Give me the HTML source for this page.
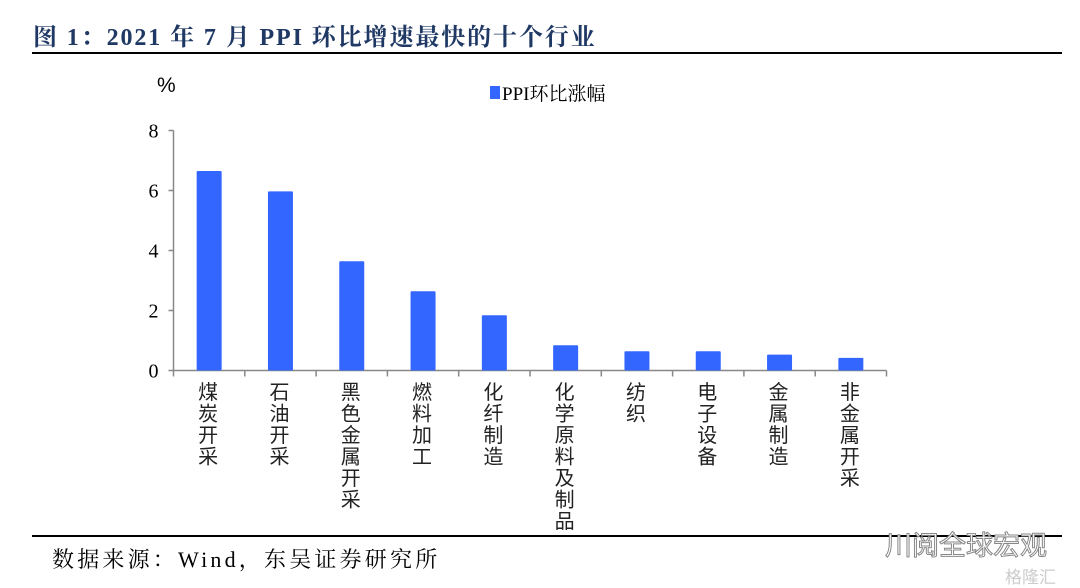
<!DOCTYPE html>
<html><head><meta charset="utf-8"><style>
body{margin:0;background:#fff;width:1080px;height:588px;overflow:hidden;position:relative;font-family:"Liberation Serif","Noto Serif CJK SC",serif}
.title{position:absolute;left:33px;top:17px;font-size:24px;letter-spacing:1.9px;font-weight:bold;color:#1f3864;white-space:nowrap;font-family:"Liberation Serif","Noto Serif CJK SC",serif}
.src{position:absolute;left:52px;top:543px;font-size:22px;letter-spacing:3.2px;color:#000;white-space:nowrap;font-family:"Liberation Serif","Noto Serif CJK SC",serif}
.wm{position:absolute;left:885px;top:524px;font-size:27px;color:#fff;-webkit-text-stroke:1px #888;font-family:"Liberation Sans","Noto Sans CJK SC",sans-serif;white-space:nowrap}
.wm2{position:absolute;left:1005px;top:563px;font-size:17px;color:#ccc;font-family:"Liberation Sans","Noto Sans CJK SC",sans-serif}
</style></head><body>
<div class="title">图 1：2021 年 7 月 PPI 环比增速最快的十个行业</div>
<div style="position:absolute;left:32px;top:52px;width:1030px;height:2px;background:#000"></div>
<svg id="c" width="1080" height="588" style="position:absolute;left:0;top:0"></svg>
<div style="position:absolute;left:32px;top:535px;width:1030px;height:2px;background:#000"></div>
<div class="src">数据来源：Wind，东吴证券研究所</div>
<div class="wm">川阅全球宏观</div>
<div class="wm2">格隆汇</div>
<script>
const categories=["煤炭开采","石油开采","黑色金属开采","燃料加工","化纤制造","化学原料及制品","纺织","电子设备","金属制造","非金属开采"];
const values=[6.65,5.97,3.64,2.64,1.84,0.84,0.64,0.64,0.53,0.42];
const yTicks=[0,2,4,6,8];
const NS="http://www.w3.org/2000/svg";
const svg=document.getElementById('c');
const x0=173.5,x1=886.5,yb=370.5,yt=130.5,ymax=8;
const bw=(x1-x0)/categories.length;
const ys=v=>yb-(v/ymax)*(yb-yt);
const xc=i=>x0+bw*(i+0.5);
function mk(t,a){const e=document.createElementNS(NS,t);for(const k in a)e.setAttribute(k,a[k]);svg.appendChild(e);return e;}
let e;
e=mk('line',{x1:x0,y1:yt,x2:x0,y2:yb,stroke:'#888','stroke-width':1.5});


e=mk('line',{x1:x0,y1:yb,x2:x1,y2:yb,stroke:'#888','stroke-width':1.5});


yTicks.forEach(v=>{
 e=mk('line',{x1:x0-5,y1:ys(v),x2:x0,y2:ys(v),stroke:'#888','stroke-width':1.5});
 
 
 e=mk('text',{x:x0-15,y:ys(v)+7,'text-anchor':'end','font-size':20,'font-family':'Liberation Serif, serif'});
 e.textContent=v;
 
 
});
for(let i=0;i<=categories.length;i++){
 e=mk('line',{x1:x0+bw*i,y1:yb,x2:x0+bw*i,y2:yb+6,stroke:'#888','stroke-width':1.5});
 
 
}
categories.forEach((c,i)=>{
 e=mk('rect',{x:xc(i)-12.5,y:ys(values[i]),width:25,height:yb-ys(values[i]),fill:'#3366ff',rx:1});
 
 
 [...c].forEach((ch,j)=>{
  e=mk('text',{x:xc(i)-1,y:399+j*21.5,'text-anchor':'middle','font-size':20,'font-family':'Liberation Sans, Noto Sans CJK SC, sans-serif',fill:'#222'});
  e.textContent=ch;
  
  
 });
});
e=mk('text',{x:157,y:92,'font-size':21,'font-family':'Liberation Sans, sans-serif'});
e.textContent='%';


e=mk('rect',{x:490,y:86,width:10,height:13,fill:'#3366ff'});


e=mk('text',{x:502,y:100,'font-size':19,'font-family':'Liberation Serif, Noto Serif CJK SC, serif'});
e.textContent='PPI环比涨幅';


</script>
</body></html>
